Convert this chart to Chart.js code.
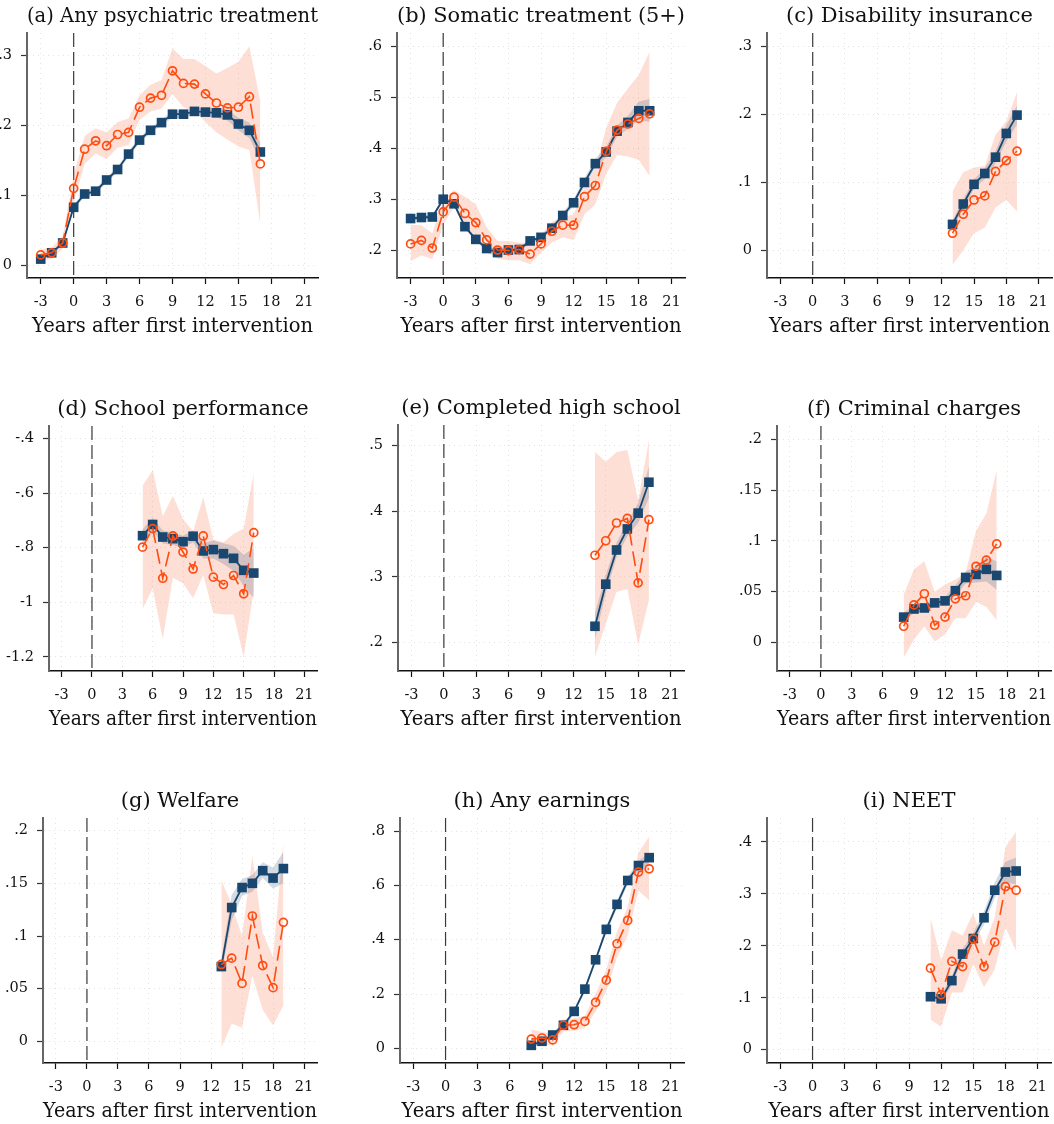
<!DOCTYPE html>
<html>
<head>
<meta charset="utf-8">
<script src="https://cdn.jsdelivr.net/npm/chart.js@4.4.1/dist/chart.umd.min.js"></script>
<style>
  html, body { margin: 0; padding: 0; background: #fff; }
  #page { position: relative; width: 1054px; height: 1124px; overflow: hidden; }
  #page canvas { position: absolute; }
</style>
</head>
<body>
<div id="page"></div>
<script>
// DATA (first year of each series, then one value per year)
const xTicks = [-3, 0, 3, 6, 9, 12, 15, 18, 21];

// (a) Any psychiatric treatment
const aStart = -3;
const aBlue = [0.009,0.018,0.032,0.083,0.102,0.106,0.122,0.137,0.159,0.179,0.193,0.204,0.216,0.216,0.220,0.219,0.218,0.215,0.202,0.193,0.162];
const aBlueLo = [0.006,0.015,0.029,0.079,0.098,0.102,0.118,0.133,0.155,0.175,0.189,0.200,0.211,0.211,0.215,0.213,0.211,0.207,0.193,0.182,0.149];
const aBlueHi = [0.012,0.021,0.035,0.087,0.106,0.110,0.126,0.141,0.163,0.183,0.197,0.208,0.221,0.221,0.225,0.225,0.225,0.223,0.211,0.204,0.175];
const aOrange = [0.015,0.018,0.032,0.110,0.166,0.178,0.171,0.187,0.190,0.226,0.239,0.243,0.278,0.260,0.259,0.245,0.232,0.225,0.226,0.241,0.145];
const aOrangeLo = [0.006,0.010,0.024,0.090,0.145,0.160,0.152,0.168,0.172,0.208,0.220,0.224,0.245,0.226,0.220,0.205,0.190,0.180,0.170,0.165,0.058];
const aOrangeHi = [0.023,0.026,0.041,0.130,0.185,0.196,0.190,0.205,0.210,0.243,0.258,0.265,0.310,0.295,0.295,0.285,0.274,0.282,0.291,0.313,0.234];
const aTicks = [0, 0.1, 0.2, 0.3];

// (b) Somatic treatment (5+)
const bStart = -3;
const bBlue = [0.262,0.264,0.265,0.300,0.291,0.246,0.221,0.203,0.195,0.200,0.201,0.218,0.225,0.243,0.268,0.293,0.333,0.370,0.393,0.434,0.451,0.474,0.474];
const bBlueLo = [0.258,0.260,0.261,0.296,0.287,0.242,0.217,0.199,0.191,0.196,0.197,0.213,0.220,0.238,0.262,0.286,0.325,0.361,0.383,0.423,0.438,0.456,0.452];
const bBlueHi = [0.266,0.268,0.269,0.304,0.295,0.250,0.225,0.207,0.199,0.204,0.205,0.223,0.230,0.248,0.274,0.300,0.341,0.379,0.403,0.445,0.464,0.492,0.497];
const bOrange = [0.212,0.219,0.204,0.275,0.304,0.272,0.254,0.220,0.200,0.199,0.201,0.192,0.212,0.237,0.249,0.249,0.305,0.327,0.394,0.436,0.448,0.459,0.468];
const bOrangeLo = [0.178,0.190,0.182,0.250,0.285,0.245,0.220,0.195,0.183,0.180,0.180,0.172,0.195,0.215,0.225,0.220,0.270,0.290,0.350,0.387,0.384,0.377,0.345];
const bOrangeHi = [0.250,0.249,0.233,0.300,0.318,0.305,0.290,0.245,0.218,0.218,0.215,0.210,0.230,0.255,0.265,0.270,0.325,0.360,0.440,0.490,0.518,0.545,0.590];
const bTicks = [0.2, 0.3, 0.4, 0.5, 0.6];

// (c) Disability insurance
const cStart = 13;
const cBlue = [0.038,0.068,0.097,0.113,0.137,0.172,0.199];
const cBlueLo = [0.032,0.061,0.090,0.105,0.128,0.160,0.185];
const cBlueHi = [0.044,0.075,0.104,0.121,0.146,0.184,0.213];
const cOrange = [0.025,0.053,0.074,0.080,0.116,0.132,0.146];
const cOrangeLo = [-0.022,0.000,0.025,0.033,0.063,0.074,0.057];
const cOrangeHi = [0.087,0.115,0.122,0.124,0.170,0.190,0.233];
const cTicks = [0, 0.1, 0.2, 0.3];

// (d) School performance
const dStart = 5;
const dBlue = [-0.756,-0.715,-0.761,-0.767,-0.778,-0.758,-0.812,-0.807,-0.822,-0.839,-0.883,-0.893];
const dBlueLo = [-0.780,-0.740,-0.785,-0.790,-0.800,-0.780,-0.840,-0.840,-0.860,-0.885,-0.940,-0.985];
const dBlueHi = [-0.732,-0.690,-0.737,-0.744,-0.756,-0.736,-0.784,-0.774,-0.784,-0.793,-0.826,-0.801];
const dOrange = [-0.798,-0.730,-0.912,-0.757,-0.816,-0.878,-0.757,-0.908,-0.935,-0.902,-0.969,-0.745];
const dOrangeLo = [-1.025,-0.950,-1.135,-0.910,-0.930,-0.985,-0.900,-1.040,-1.045,-1.045,-1.200,-0.955];
const dOrangeHi = [-0.573,-0.515,-0.685,-0.610,-0.695,-0.740,-0.615,-0.770,-0.780,-0.750,-0.730,-0.525];
const dTicks = [-1.2, -1, -0.8, -0.6, -0.4];

// (e) Completed high school
const eStart = 14;
const eBlue = [0.225,0.289,0.341,0.373,0.397,0.444];
const eBlueLo = [0.205,0.275,0.330,0.362,0.382,0.420];
const eBlueHi = [0.245,0.303,0.352,0.384,0.412,0.468];
const eOrange = [0.333,0.355,0.382,0.389,0.291,0.387];
const eOrangeLo = [0.178,0.229,0.277,0.282,0.197,0.265];
const eOrangeHi = [0.490,0.475,0.490,0.493,0.417,0.508];
const eTicks = [0.2, 0.3, 0.4, 0.5];

// (f) Criminal charges
const fStart = 8;
const fBlue = [0.025,0.033,0.034,0.039,0.041,0.051,0.064,0.067,0.072,0.066];
const fBlueLo = [0.021,0.029,0.030,0.035,0.037,0.046,0.058,0.059,0.060,0.052];
const fBlueHi = [0.029,0.037,0.038,0.043,0.045,0.056,0.070,0.075,0.084,0.080];
const fOrange = [0.016,0.037,0.048,0.017,0.025,0.043,0.046,0.075,0.081,0.097];
const fOrangeLo = [-0.015,0.003,0.016,0.001,0.008,0.024,0.024,0.040,0.035,0.022];
const fOrangeHi = [0.047,0.072,0.080,0.050,0.057,0.062,0.069,0.110,0.127,0.170];
const fTicks = [0, 0.05, 0.1, 0.15, 0.2];

// (g) Welfare
const gStart = 13;
const gBlue = [0.071,0.127,0.146,0.150,0.162,0.155,0.164];
const gBlueLo = [0.064,0.115,0.138,0.142,0.155,0.145,0.150];
const gBlueHi = [0.078,0.139,0.154,0.158,0.170,0.165,0.180];
const gOrange = [0.073,0.079,0.055,0.119,0.072,0.051,0.113];
const gOrangeLo = [-0.006,0.017,0.013,0.062,0.030,0.015,0.034];
const gOrangeHi = [0.153,0.130,0.100,0.176,0.103,0.080,0.190];
const gTicks = [0, 0.05, 0.1, 0.15, 0.2];

// (h) Any earnings
const hStart = 8;
const hBlue = [0.011,0.026,0.049,0.085,0.136,0.218,0.326,0.438,0.530,0.618,0.673,0.702];
const hBlueLo = [0.003,0.018,0.041,0.077,0.127,0.208,0.315,0.426,0.517,0.603,0.656,0.682];
const hBlueHi = [0.019,0.034,0.057,0.093,0.145,0.228,0.337,0.450,0.543,0.633,0.690,0.722];
const hOrange = [0.034,0.038,0.031,0.085,0.087,0.099,0.169,0.251,0.385,0.471,0.649,0.661];
const hOrangeLo = [0.000,0.015,0.010,0.062,0.065,0.075,0.135,0.210,0.335,0.415,0.580,0.545];
const hOrangeHi = [0.070,0.060,0.055,0.105,0.110,0.120,0.200,0.290,0.430,0.520,0.720,0.780];
const hTicks = [0, 0.2, 0.4, 0.6, 0.8];

// (i) NEET
const iStart = 11;
const iBlue = [0.102,0.098,0.133,0.184,0.214,0.254,0.307,0.342,0.344];
const iBlueLo = [0.094,0.090,0.124,0.174,0.203,0.241,0.292,0.322,0.318];
const iBlueHi = [0.110,0.106,0.142,0.194,0.225,0.267,0.322,0.362,0.370];
const iOrange = [0.157,0.106,0.170,0.160,0.213,0.160,0.207,0.314,0.307];
const iOrangeLo = [0.058,0.044,0.110,0.110,0.165,0.120,0.155,0.235,0.190];
const iOrangeHi = [0.255,0.172,0.230,0.220,0.263,0.200,0.255,0.390,0.420];
const iTicks = [0, 0.1, 0.2, 0.3, 0.4];

// PAINEIS: titulo, dados, limites do eixo y e caixa do grafico na pagina
const panels = [
  { title: '(a) Any psychiatric treatment', start: aStart, blue: aBlue, blueLo: aBlueLo, blueHi: aBlueHi, orange: aOrange, orangeLo: aOrangeLo, orangeHi: aOrangeHi, ticks: aTicks, ymin: -0.018, ymax: 0.332, box: [27, 318, 33, 278] },
  { title: '(b) Somatic treatment (5+)', start: bStart, blue: bBlue, blueLo: bBlueLo, blueHi: bBlueHi, orange: bOrange, orangeLo: bOrangeLo, orangeHi: bOrangeHi, ticks: bTicks, ymin: 0.145, ymax: 0.627, box: [397, 685, 33, 278] },
  { title: '(c) Disability insurance', start: cStart, blue: cBlue, blueLo: cBlueLo, blueHi: cBlueHi, orange: cOrange, orangeLo: cOrangeLo, orangeHi: cOrangeHi, ticks: cTicks, ymin: -0.041, ymax: 0.32, box: [767, 1052, 33, 278] },
  { title: '(d) School performance', start: dStart, blue: dBlue, blueLo: dBlueLo, blueHi: dBlueHi, orange: dOrange, orangeLo: dOrangeLo, orangeHi: dOrangeHi, ticks: dTicks, ymin: -1.252, ymax: -0.354, box: [49, 317, 426, 671] },
  { title: '(e) Completed high school', start: eStart, blue: eBlue, blueLo: eBlueLo, blueHi: eBlueHi, orange: eOrange, orangeLo: eOrangeLo, orangeHi: eOrangeHi, ticks: eTicks, ymin: 0.157, ymax: 0.531, box: [398, 684, 425, 671] },
  { title: '(f) Criminal charges', start: fStart, blue: fBlue, blueLo: fBlueLo, blueHi: fBlueHi, orange: fOrange, orangeLo: fOrangeLo, orangeHi: fOrangeHi, ticks: fTicks, ymin: -0.028, ymax: 0.213, box: [777, 1051, 426, 671] },
  { title: '(g) Welfare', start: gStart, blue: gBlue, blueLo: gBlueLo, blueHi: gBlueHi, orange: gOrange, orangeLo: gOrangeLo, orangeHi: gOrangeHi, ticks: gTicks, ymin: -0.0205, ymax: 0.212, box: [43, 317, 818, 1063] },
  { title: '(h) Any earnings', start: hStart, blue: hBlue, blueLo: hBlueLo, blueHi: hBlueHi, orange: hOrange, orangeLo: hOrangeLo, orangeHi: hOrangeHi, ticks: hTicks, ymin: -0.054, ymax: 0.848, box: [400, 684, 818, 1063] },
  { title: '(i) NEET', start: iStart, blue: iBlue, blueLo: iBlueLo, blueHi: iBlueHi, orange: iOrange, orangeLo: iOrangeLo, orangeHi: iOrangeHi, ticks: iTicks, ymin: -0.0256, ymax: 0.446, box: [767, 1051, 818, 1063] }
];

// CORES E MEDIDAS
const AZUL = '#1a476f';
const LARANJA = '#ff4d12';
const FONTE = "'DejaVu Serif', 'Liberation Serif', serif";
const YW = 60;   // largura do eixo y
const TH = 34;   // altura do titulo
const XH = 62;   // altura do eixo x
const PD = 10;   // folga a direita
const TF = 21;   // fonte do titulo

function pontos(start, arr) {
  return arr.map((v, i) => ({ x: start + i, y: v }));
}

function rotulo(v) {
  const s = String(parseFloat(v.toFixed(3)));
  return s.replace(/^(-?)0\./, '$1.');
}

// linha tracejada vertical no ano 0
const linhaZero = {
  id: 'linhaZero',
  beforeDatasetsDraw(chart) {
    const x = chart.scales.x.getPixelForValue(0);
    const area = chart.chartArea;
    const ctx = chart.ctx;
    ctx.save();
    ctx.strokeStyle = '#3a3a3a';
    ctx.lineWidth = 1.2;
    ctx.setLineDash([14, 5]);
    ctx.beginPath();
    ctx.moveTo(x, area.top);
    ctx.lineTo(x, area.bottom);
    ctx.stroke();
    ctx.restore();
  }
};

function montarPainel(p) {
  const [L, R, T, B] = p.box;
  const canvas = document.createElement('canvas');
  const w = (R - L) + YW + PD;
  const h = (B - T) + TH + XH;
  canvas.width = w;
  canvas.height = h;
  canvas.style.left = (L - YW) + 'px';
  canvas.style.top = (T - TH) + 'px';
  canvas.style.width = w + 'px';
  canvas.style.height = h + 'px';
  document.getElementById('page').appendChild(canvas);

  const semPonto = { pointRadius: 0, borderWidth: 0, tension: 0 };
  const tituloTopo = 5.4;

  new Chart(canvas.getContext('2d'), {
    type: 'line',
    data: {
      datasets: [
        { // 0 laranja por cima
          data: pontos(p.start, p.orange),
          borderColor: LARANJA, borderWidth: 1.6, borderDash: [15, 6],
          pointStyle: 'circle', pointRadius: 4, pointBorderWidth: 1.7,
          pointBorderColor: LARANJA, pointBackgroundColor: 'rgba(0,0,0,0)',
          fill: false, tension: 0
        },
        { // 1 azul
          data: pontos(p.start, p.blue),
          borderColor: AZUL, borderWidth: 1.8,
          pointStyle: 'rect', pointRadius: 6.8, pointBorderWidth: 0,
          pointBackgroundColor: AZUL, fill: false, tension: 0
        },
        Object.assign({ data: pontos(p.start, p.blueHi), fill: 3, backgroundColor: 'rgba(40,75,115,0.20)' }, semPonto),
        Object.assign({ data: pontos(p.start, p.blueLo), fill: false }, semPonto),
        Object.assign({ data: pontos(p.start, p.orangeHi), fill: 5, backgroundColor: 'rgba(252,120,80,0.24)' }, semPonto),
        Object.assign({ data: pontos(p.start, p.orangeLo), fill: false }, semPonto)
      ]
    },
    options: {
      responsive: false,
      animation: false,
      events: [],
      layout: { padding: { left: 0, right: PD, top: 0, bottom: 0 } },
      plugins: {
        legend: { display: false },
        tooltip: { enabled: false },
        title: {
          display: true, fullSize: false, text: p.title, color: '#111',
          font: { family: FONTE, size: TF, weight: 'normal' },
          padding: { top: tituloTopo, bottom: TH - tituloTopo - TF * 1.2 }
        }
      },
      scales: {
        x: {
          type: 'linear', min: -4.25, max: 22.25,
          afterBuildTicks: s => { s.ticks = xTicks.map(v => ({ value: v })); },
          afterFit: s => { s.height = XH; },
          ticks: { color: '#111', font: { family: FONTE, size: 14.5 }, padding: 10, maxRotation: 0, autoSkip: false },
          grid: { color: 'rgba(0,0,0,0.11)', lineWidth: 1, tickLength: 6, tickColor: '#111', tickWidth: 1.2 },
          border: { display: true, color: '#111', width: 1.4, dash: [1, 4] },
          title: {
            display: true, text: 'Years after first intervention', color: '#111',
            font: { family: FONTE, size: 19.5 }, padding: { top: 0, bottom: 1 }
          }
        },
        y: {
          type: 'linear', min: p.ymin, max: p.ymax,
          afterBuildTicks: s => { s.ticks = p.ticks.map(v => ({ value: v })); },
          afterFit: s => { s.width = YW; },
          ticks: { color: '#111', font: { family: FONTE, size: 14.5 }, padding: 9, callback: v => rotulo(v) },
          grid: { color: 'rgba(0,0,0,0.11)', lineWidth: 1, tickLength: 6, tickColor: '#333', tickWidth: 1.2 },
          border: { display: true, color: '#666', width: 2, dash: [1, 4] }
        }
      }
    },
    plugins: [linhaZero]
  });
}

panels.forEach(montarPainel);
</script>
</body>
</html>
